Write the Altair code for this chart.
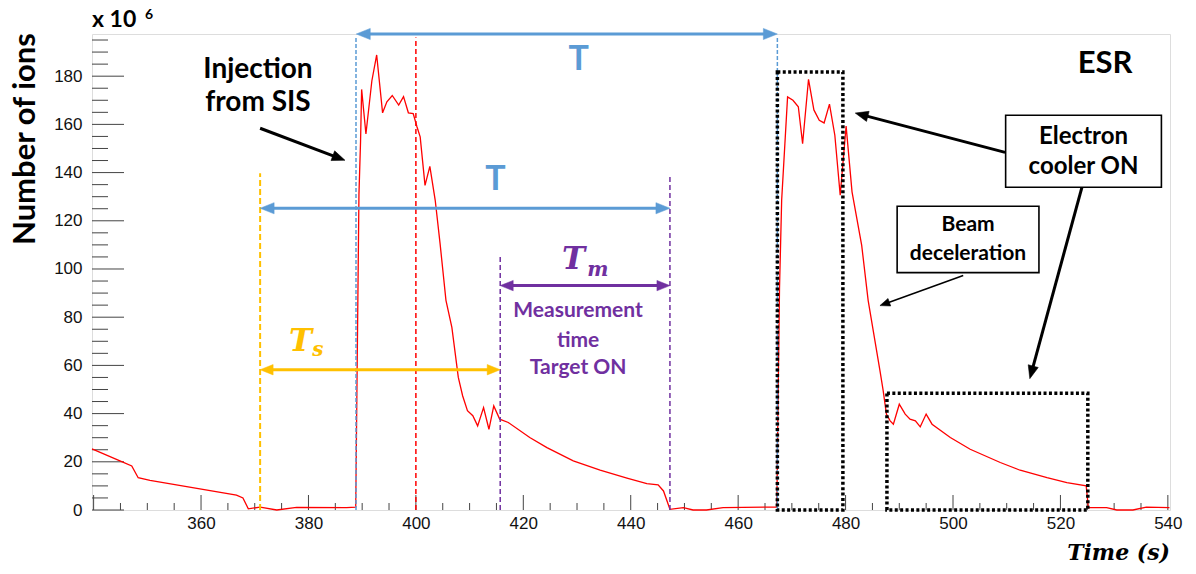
import math
import altair as alt
import pandas as pd

# ---- measured curve (time in s, number of ions in units of 1e6) ----
time_s = [339.7, 344.9, 347.1, 348.3, 350.5, 366.6, 367.8, 368.8, 371.0, 374.1, 377.8, 387.1, 388.8,
          389.0, 389.2, 389.4, 389.7, 389.9, 390.7, 391.8, 392.7, 393.8, 394.6, 395.6, 396.8, 397.7,
          398.6, 399.5, 400.2, 400.8, 401.7, 402.6, 403.6, 404.5, 405.6, 406.7, 407.9, 408.7, 409.6,
          410.6, 411.5, 412.6, 413.6, 414.5, 415.6, 417.2, 421.2, 424.4, 429.3, 434.3, 439.3, 443.0,
          445.1, 446.1, 447.3, 449.8, 451.6, 454.1, 457.2, 466.5, 467.2, 467.4, 467.7, 468.1, 469.2,
          470.2, 471.2, 472.0, 473.1, 474.1, 475.1, 476.0, 477.0, 478.0, 479.0, 480.1, 481.2, 483.0,
          484.2, 486.4, 487.0, 487.6, 488.3, 488.9, 490.0, 491.1, 492.0, 493.0, 493.9, 495.0, 496.1,
          499.5, 503.2, 508.8, 512.5, 517.5, 521.2, 524.8, 525.2, 528.6, 530.5, 533.5, 536.0, 540.3]
ions_e6 = [25.4, 20.4, 18.3, 13.4, 12.3, 6.2, 5.0, 0.5, 1.2, 0.0, 1.1, 1.0, 1.2,
           45.0, 88.0, 131.0, 153.0, 174.5, 156.0, 178.0, 188.8, 164.8, 169.4, 172.0, 168.0, 171.5,
           164.8, 164.5, 159.0, 154.8, 134.7, 142.6, 128.5, 110.6, 87.0, 75.8, 55.0, 47.4, 41.2,
           39.1, 34.9, 42.5, 33.5, 43.2, 37.7, 36.3, 30.1, 25.9, 20.4, 16.5, 13.2, 10.9,
           10.4, 7.9, 0.3, 1.0, 0.0, 0.0, 1.0, 1.2, 1.2, 40.0, 92.0, 128.5, 171.4,
           170.0, 167.3, 152.0, 178.7, 166.0, 161.7, 160.6, 168.4, 155.5, 130.6, 159.3, 132.0, 109.8,
           87.0, 57.8, 49.5, 39.8, 37.0, 35.6, 43.9, 39.8, 37.7, 37.0, 34.5, 39.8, 35.6,
           30.1, 25.2, 19.7, 16.5, 13.4, 11.4, 10.0, 1.0, 1.0, 0.0, 0.0, 1.2, 1.0]

x_labels = [360, 380, 400, 420, 440, 460, 480, 500, 520, 540]
y_labels = [0, 20, 40, 60, 80, 100, 120, 140, 160, 180]
x_major = [340, 360, 380, 400, 420, 440, 460, 480, 500, 520, 540]
x_minor = [v for v in range(340, 541, 5) if v % 20]
y_major = y_labels
y_minor = [v for v in range(5, 197, 5) if v % 20]

XD = [339.7, 540.4]
YD = [0, 197.5]
W, H = 1078, 476
sx = W / (XD[1] - XD[0])
sy = H / (YD[1] - YD[0])

xs = alt.Scale(domain=XD, nice=False, zero=False)
ys = alt.Scale(domain=YD, nice=False, zero=False)

AX = alt.Axis(values=x_labels, ticks=False, grid=False, domain=False, title=None,
              labelFont="Liberation Sans", labelFontSize=17, labelColor="#111", labelPadding=5)
AY = alt.Axis(values=y_labels, ticks=False, grid=False, domain=False, title=None,
              labelFont="Liberation Sans", labelFontSize=17, labelColor="#111", labelPadding=10)

BLUE = "#5b9bd5"
ORANGE = "#ffc000"
PURPLE = "#7030a0"
RED = "#ff0000"
SANS = "Lato"
SERIF = "DejaVu Serif"
HEAD = "M0,0L-0.8,2L0.8,2Z"


def X(f="t"):
    return alt.X(f"{f}:Q", scale=xs, axis=AX, title=None)


def Y(f="v"):
    return alt.Y(f"{f}:Q", scale=ys, axis=AY, title=None)


layers = []

# ---- ticks pointing inward (ROOT style) ----
layers.append(alt.Chart(pd.DataFrame({"v": y_major})).mark_rule(color="#444", strokeWidth=1).encode(
    y=Y("v"), x=alt.value(0), x2=alt.value(32)))
layers.append(alt.Chart(pd.DataFrame({"v": y_minor})).mark_rule(color="#444", strokeWidth=1).encode(
    y=Y("v"), x=alt.value(0), x2=alt.value(16)))
layers.append(alt.Chart(pd.DataFrame({"t": x_major})).mark_rule(color="#444", strokeWidth=1).encode(
    x=X("t"), y=alt.value(H), y2=alt.value(H - 15)))
layers.append(alt.Chart(pd.DataFrame({"t": x_minor})).mark_rule(color="#444", strokeWidth=1).encode(
    x=X("t"), y=alt.value(H), y2=alt.value(H - 7)))

# ---- the curve ----
layers.append(alt.Chart(pd.DataFrame({"t": time_s, "v": ions_e6})).mark_line(
    color=RED, strokeWidth=1.3).encode(x=X("t"), y=Y("v")))


def vline(t, v0, v1, color, dash, w=1.5):
    return alt.Chart(pd.DataFrame({"t": [t], "v": [v0], "v1": [v1]})).mark_rule(
        color=color, strokeDash=dash, strokeWidth=w).encode(x=X("t"), y=Y("v"), y2=alt.Y2("v1:Q"))


layers += [
    vline(388.85, 0, 196, BLUE, [4, 2]),
    vline(467.3, 0, 196, BLUE, [4, 2]),
    vline(400.0, 0, 196, RED, [5, 3]),
    vline(371.0, 0, 139.7, ORANGE, [6, 3], 2),
    vline(415.7, 0, 105.6, PURPLE, [5, 3]),
    vline(447.3, 0, 138.9, PURPLE, [5, 3]),
]


def arrow(t0, v0, t1, v1, color, w, head, double=False):
    dx = (t1 - t0) * sx
    dy = (v1 - v0) * sy
    L = math.hypot(dx, dy)
    ux, uy = dx / L, dy / L
    back = head * 0.7
    a0t, a0v = (t0 + ux * back / sx, v0 + uy * back / sy) if double else (t0, v0)
    a1t, a1v = t1 - ux * back / sx, v1 - uy * back / sy
    out = [alt.Chart(pd.DataFrame({"t": [a0t], "v": [a0v], "t2": [a1t], "v2": [a1v]})).mark_rule(
        color=color, strokeWidth=w).encode(x=X("t"), y=Y("v"), x2=alt.X2("t2:Q"), y2=alt.Y2("v2:Q"))]
    ang = math.degrees(math.atan2(dx, dy)) % 360
    heads = [(t1, v1, ang)]
    if double:
        heads.append((t0, v0, (ang + 180) % 360))
    for ht, hv, ha in heads:
        out.append(alt.Chart(pd.DataFrame({"t": [ht], "v": [hv]})).mark_point(
            shape=HEAD, filled=True, fill=color, stroke=color, strokeWidth=0.5,
            size=head * head, angle=ha, opacity=1).encode(x=X("t"), y=Y("v")))
    return out


layers += arrow(388.9, 197.5, 467.3, 197.5, BLUE, 3, 14, True)
layers += arrow(371.0, 125.2, 447.3, 125.2, BLUE, 3, 14, True)
layers += arrow(415.7, 93.1, 447.3, 93.1, PURPLE, 3, 13, True)
layers += arrow(371.0, 58.2, 415.7, 58.2, ORANGE, 3, 13, True)
layers += arrow(371.0, 158.4, 386.8, 145.1, "black", 3, 13)
layers += arrow(509.7, 148.4, 481.8, 164.7, "black", 3, 13)
layers += arrow(524.0, 133.9, 514.3, 54.5, "black", 3, 13)
layers += arrow(501.9, 97.3, 486.4, 84.8, "black", 1.5, 10)


def box(t0, t1, v0, v1, dotted=False):
    df = pd.DataFrame({"t": [t0], "t2": [t1], "v": [v0], "v2": [v1]})
    if dotted:
        mk = alt.Chart(df).mark_rect(fillOpacity=0, stroke="black", strokeWidth=3.5,
                                     strokeDash=[3, 2.4])
    else:
        mk = alt.Chart(df).mark_rect(fill="white", stroke="black", strokeWidth=1.6)
    return mk.encode(x=X("t"), x2=alt.X2("t2:Q"), y=Y("v"), y2=alt.Y2("v2:Q"))


layers += [
    box(467.3, 479.5, 0, 181.7, True),
    box(487.7, 525.1, 0, 48.4, True),
    box(509.8, 538.8, 133.9, 163.8),
    box(489.6, 516.0, 98.5, 126.0),
]


def text(t, v, s, size, color="black", font=SANS, weight="bold", style="normal",
         align="center", baseline="middle"):
    return alt.Chart(pd.DataFrame({"t": [t], "v": [v], "s": [s]})).mark_text(
        font=font, fontSize=size, fontWeight=weight, fontStyle=style, color=color,
        align=align, baseline=baseline).encode(x=X("t"), y=Y("v"), text="s:N")


layers += [
    text(430.3, 186.7, "T", 34, BLUE),
    text(414.8, 136.8, "T", 34, BLUE),
    text(370.6, 182.5, "Injection", 28),
    text(370.6, 168.8, "from SIS", 28),
    text(430.2, 82.7, "Measurement", 21, PURPLE),
    text(430.2, 70.3, "time", 21, PURPLE),
    text(430.2, 59.0, "Target ON", 21, PURPLE),
    text(427.2, 100.2, "T", 31, PURPLE, SERIF, "bold", "italic", "left", "alphabetic"),
    text(431.9, 96.9, "m", 20, PURPLE, SERIF, "bold", "italic", "left", "alphabetic"),
    text(376.4, 66.1, "T", 31, ORANGE, SERIF, "bold", "italic", "left", "alphabetic"),
    text(380.7, 64.0, "s", 20, ORANGE, SERIF, "bold", "italic", "left", "alphabetic"),
    text(528.3, 185.0, "ESR", 31),
    text(524.3, 154.7, "Electron", 24),
    text(524.3, 142.2, "cooler ON", 24),
    text(502.8, 118.1, "Beam", 21),
    text(502.8, 106.4, "deceleration", 21),
]


def ptext(x, y, s, size, font, weight="normal", style="normal", align="left",
          baseline="alphabetic", angle=0):
    return alt.Chart(pd.DataFrame({"s": [s]})).mark_text(
        font=font, fontSize=size, fontWeight=weight, fontStyle=style, color="black",
        align=align, baseline=baseline, angle=angle).encode(
        x=alt.value(x), y=alt.value(y), text="s:N")


layers += [
    ptext(0, -7, "x 10", 23, SANS, "bold"),
    ptext(53, -15, "6", 14, SANS, "bold"),
    ptext(-66, 105, "Number of ions", 31, SANS, "bold", align="center", baseline="middle", angle=270),
    ptext(1078, 526, "Time (s)", 22, SERIF, "bold", "italic", align="right"),
]

chart = alt.layer(*layers).properties(
    width=W, height=H,
    autosize=alt.AutoSizeParams(type="none"),
    padding={"left": 84, "top": 26, "right": 16, "bottom": 62},
).configure_view(stroke="#555", strokeWidth=1).configure(background="white")

chart.save("out.html", embed_options={"renderer": "svg", "actions": False})
